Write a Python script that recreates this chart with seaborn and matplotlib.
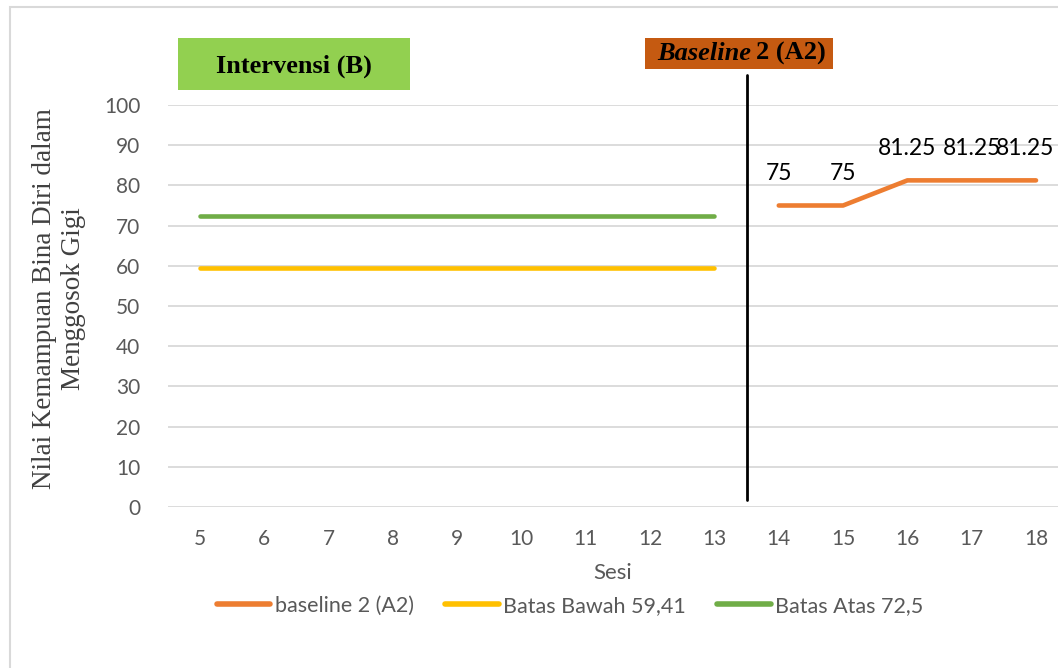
import matplotlib
matplotlib.use("Agg")
import matplotlib.pyplot as plt
import matplotlib.patches as mpatches
import seaborn as sns
import pandas as pd

# Session data
sesi_intervensi = [5, 6, 7, 8, 9, 10, 11, 12, 13]
batas_bawah = [59.41] * 9
batas_atas = [72.5] * 9
sesi_baseline = [14, 15, 16, 17, 18]
baseline2 = [75, 75, 81.25, 81.25, 81.25]
baseline_labels = ["75", "75", "81.25", "81.25", "81.25"]

series_names = ["baseline 2 (A2)", "Batas Bawah 59,41", "Batas Atas 72,5"]
series_colors = ["#ED7D31", "#FFC000", "#70AD47"]
y_ticks = list(range(0, 101, 10))
x_ticks = list(range(5, 19))

df = pd.concat([
    pd.DataFrame({"Sesi": sesi_baseline, "Nilai": baseline2, "Seri": series_names[0]}),
    pd.DataFrame({"Sesi": sesi_intervensi, "Nilai": batas_bawah, "Seri": series_names[1]}),
    pd.DataFrame({"Sesi": sesi_intervensi, "Nilai": batas_atas, "Seri": series_names[2]}),
])

sns.set_theme(style="white")
plt.rcParams["font.family"] = ["Lato", "DejaVu Sans"]

W, H = 1058, 668
fig = plt.figure(figsize=(W / 100, H / 100), dpi=100)
ax = fig.add_axes([168 / W, (H - 507) / H, (W - 168) / W, (507 - 105) / H])

sns.lineplot(data=df, x="Sesi", y="Nilai", hue="Seri", hue_order=series_names,
             palette=series_colors, linewidth=3.3, ax=ax, legend=True,
             solid_capstyle="round")

px_per_unit = (1036 - 200) / 13
ax.set_xlim(5 - 32 / px_per_unit, 5 + (W - 200) / px_per_unit)
ax.set_ylim(0, 100)
ax.set_yticks(y_ticks)
ax.set_xticks(x_ticks)
ax.tick_params(axis="both", colors="#595959", labelsize=15, length=0)
ax.tick_params(axis="y", pad=20)
ax.tick_params(axis="x", pad=16)
ax.grid(axis="y", color="#D9D9D9", linewidth=1.3)
ax.set_axisbelow(True)
for s in ax.spines.values():
    s.set_visible(False)

ax.set_xlabel("Sesi", fontsize=16, color="#595959", labelpad=10)
ax.set_ylabel("Nilai Kemampuan Bina Diri dalam\nMenggosok Gigi", fontsize=19.5,
              family="Liberation Serif", color="#404040", linespacing=1.2)
ax.yaxis.set_label_coords((86 - 168) / (W - 168), (507 - 299) / (507 - 105))

# Value labels above the baseline points (last one nudged to stay inside)
shifts = [0, 0, 0, 0, -8]
for x, y, t, dx in zip(sesi_baseline, baseline2, baseline_labels, shifts):
    ax.annotate(t, (x, y), xytext=(dx, 23), textcoords="offset points",
                ha="center", va="center", fontsize=16.5, color="black")

# Phase change line between session 13 and 14
ax.plot([13.5, 13.5], [1.7, 107.5], color="black", linewidth=2, clip_on=False,
        zorder=5)

# Phase labels
fig.patches.append(mpatches.Rectangle((178 / W, (H - 90) / H), 232 / W, 52 / H,
                                      transform=fig.transFigure, facecolor="#92D050",
                                      edgecolor="none"))
fig.text(294 / W, (H - 66) / H, "Intervensi (B)", ha="center", va="center",
         fontsize=19, fontweight="bold", family="Liberation Serif", color="black")
fig.patches.append(mpatches.Rectangle((645 / W, (H - 69) / H), 188 / W, 31 / H,
                                      transform=fig.transFigure, facecolor="#C55A11",
                                      edgecolor="none", zorder=0))
fig.text(751 / W, (H - 53) / H, "Baseline", ha="right", va="center",
         fontsize=19, fontweight="bold", fontstyle="italic",
         family="Liberation Serif", color="black")
fig.text(756 / W, (H - 53) / H, "2 (A2)", ha="left", va="center",
         fontsize=19, fontweight="bold", family="Liberation Serif", color="black")

# Legend below the axis
handles, labels = ax.get_legend_handles_labels()
ax.legend(handles, labels, loc="center", bbox_to_anchor=(570 / W, (H - 606) / H),
          bbox_transform=fig.transFigure, ncol=3, frameon=False, fontsize=15.5,
          handlelength=2.5, handletextpad=0.2, columnspacing=1.45, labelcolor="#595959")
for line in ax.get_legend().get_lines():
    line.set_linewidth(4)

# Chart frame
fig.patches.append(mpatches.Rectangle((10 / W, -0.1), 1.2, (H - 7) / H + 0.1,
                                      transform=fig.transFigure, fill=False,
                                      edgecolor="#D9D9D9", linewidth=1.5))

fig.savefig("out.png", dpi=100)
